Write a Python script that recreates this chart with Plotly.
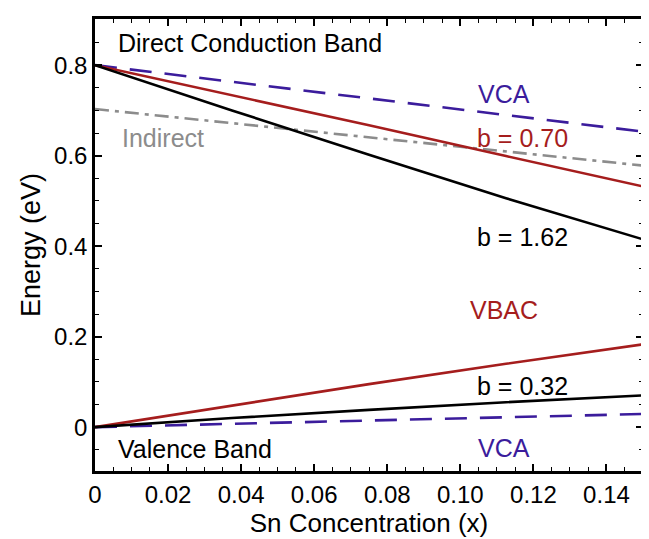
import plotly.graph_objects as go

# ---- data ----
x_pts = [0, 0.0375, 0.075, 0.1125, 0.15]

cb_vca = [0.800, 0.763, 0.726, 0.690, 0.653]
cb_b070 = [0.800, 0.734, 0.667, 0.599, 0.532]
cb_b162 = [0.800, 0.700, 0.602, 0.506, 0.415]
indirect = [0.703, 0.672, 0.641, 0.609, 0.578]

vb_vbac = [0.000, 0.048, 0.095, 0.140, 0.183]
vb_b032 = [0.000, 0.020, 0.038, 0.055, 0.070]
vb_vca = [0.000, 0.007, 0.015, 0.022, 0.029]

x_tickvals = [0, 0.02, 0.04, 0.06, 0.08, 0.10, 0.12, 0.14]
x_ticktext = ["0", "0.02", "0.04", "0.06", "0.08", "0.10", "0.12", "0.14"]
y_tickvals = [0, 0.2, 0.4, 0.6, 0.8]
y_ticktext = ["0", "0.2", "0.4", "0.6", "0.8"]

PURPLE = "#3b1c9c"
RED = "#a51d1d"
GRAY = "#8c8c8c"
BLACK = "#000000"
FONT = "Liberation Sans"

fig = go.Figure()

def add(y, color, dash="solid", width=2.6):
    fig.add_trace(go.Scatter(x=x_pts, y=y, mode="lines",
                             line=dict(color=color, width=width, dash=dash),
                             hoverinfo="skip", showlegend=False))

add(indirect, GRAY, dash="14px,6px,4px,6px", width=2.6)
add(cb_vca, PURPLE, dash="22px,13px")
add(cb_b070, RED)
add(cb_b162, BLACK)
add(vb_vca, PURPLE, dash="22px,13px")
add(vb_vbac, RED)
add(vb_b032, BLACK)

labels = [
    ("Direct Conduction Band", 0.0057, 0.848, BLACK, "left"),
    ("VCA", 0.112, 0.736, PURPLE, "center"),
    ("b = 0.70", 0.117, 0.640, RED, "center"),
    ("Indirect", 0.0186, 0.640, GRAY, "center"),
    ("b = 1.62", 0.117, 0.420, BLACK, "center"),
    ("VBAC", 0.112, 0.259, RED, "center"),
    ("b = 0.32", 0.117, 0.090, BLACK, "center"),
    ("Valence Band", 0.0057, -0.048, BLACK, "left"),
    ("VCA", 0.112, -0.046, PURPLE, "center"),
]
for txt, lx, ly, col, anc in labels:
    fig.add_annotation(x=lx, y=ly, text=txt, showarrow=False,
                       xanchor=anc, yanchor="middle",
                       font=dict(family=FONT, size=25, color=col))

axis_common = dict(showline=True, linecolor="black", linewidth=2.5, mirror="allticks",
                   ticks="inside", ticklen=7, tickwidth=2, tickcolor="black",
                   showgrid=False, zeroline=False,
                   tickfont=dict(family=FONT, size=24, color="black"))

fig.update_xaxes(range=[0, 0.15], tickvals=x_tickvals, ticktext=x_ticktext,
                 minor=dict(ticks="inside", ticklen=4, tickwidth=1.2, tickcolor="black",
                            dtick=0.005, showgrid=False),
                 title=dict(text="Sn Concentration (x)", font=dict(family=FONT, size=26, color="black"),
                            standoff=8),
                 **axis_common)
fig.update_yaxes(range=[-0.097, 0.902], tickvals=y_tickvals, ticktext=y_ticktext,
                 minor=dict(ticks="inside", ticklen=4, tickwidth=1.2, tickcolor="black",
                            dtick=0.05, showgrid=False),
                 title=dict(text="Energy (eV)", font=dict(family=FONT, size=27, color="black"),
                            standoff=6),
                 **axis_common)

fig.update_layout(width=649, height=539,
                  margin=dict(l=87, r=14, t=8, b=76),
                  paper_bgcolor="white", plot_bgcolor="white")

fig.write_html("out.html")
